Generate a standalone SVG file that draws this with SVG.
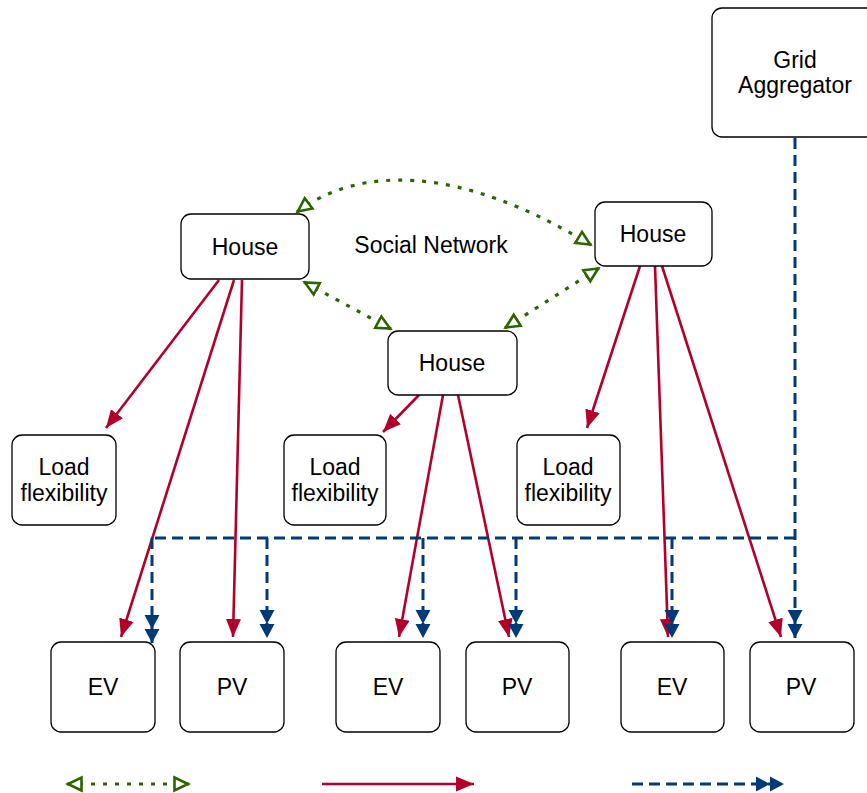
<svg xmlns="http://www.w3.org/2000/svg" width="867" height="793" viewBox="0 0 867 793">
<style>
.box{fill:#fff;stroke:#000;stroke-width:1.3}
.t{font-family:"Helvetica","Liberation Sans",Arial,sans-serif;font-size:23px;fill:#000;text-anchor:middle}
.red{fill:none;stroke:#b3002b;stroke-width:2.6}
.blue{fill:none;stroke:#003a78;stroke-width:3;stroke-dasharray:11 6}
.green{fill:none;stroke:#2a6600;stroke-width:3.2;stroke-dasharray:4 8}
</style>
<defs>
<marker id="ar" markerUnits="userSpaceOnUse" markerWidth="20" markerHeight="16" refX="18" refY="7.5" orient="auto" viewBox="0 0 20 15">
<path d="M0,0 L18,7.5 L0,15 z" fill="#b3002b"/>
</marker>
<marker id="ab" markerUnits="userSpaceOnUse" markerWidth="30" markerHeight="16" refX="28" refY="7.5" orient="auto" viewBox="0 0 30 15">
<path d="M0,0 L14,7.5 L0,15 z M14,0 L28,7.5 L14,15 z" fill="#003a78"/>
</marker>
<marker id="ag" markerUnits="userSpaceOnUse" markerWidth="20" markerHeight="18" refX="16" refY="8" orient="auto-start-reverse" viewBox="0 0 20 16">
<path d="M1.5,1.5 L15,8 L1.5,14.5 z" fill="#fff" stroke="#2a6600" stroke-width="2.6" stroke-dasharray="none"/>
</marker>
</defs>
<g id="connectors">
<path class="red" d="M219,280 L106,428" marker-end="url(#ar)"/>
<path class="red" d="M234,280 L121,637" marker-end="url(#ar)"/>
<path class="red" d="M242,280 L233,637" marker-end="url(#ar)"/>
<path class="red" d="M419,395 L383,432" marker-end="url(#ar)"/>
<path class="red" d="M443,395 L399,637" marker-end="url(#ar)"/>
<path class="red" d="M458,395 L509,637" marker-end="url(#ar)"/>
<path class="red" d="M640,266 L587,428" marker-end="url(#ar)"/>
<path class="red" d="M655,266 L668,637" marker-end="url(#ar)"/>
<path class="red" d="M662,266 L781,637" marker-end="url(#ar)"/>
<path class="blue" d="M795,138 L795,638" marker-end="url(#ab)"/>
<path class="blue" d="M795,538 L152,538"/>
<path class="blue" d="M152,538 L152,643" marker-end="url(#ab)"/>
<path class="blue" d="M267,538 L267,638" marker-end="url(#ab)"/>
<path class="blue" d="M423,538 L423,638" marker-end="url(#ab)"/>
<path class="blue" d="M516,538 L516,638" marker-end="url(#ab)"/>
<path class="blue" d="M672,538 L672,638" marker-end="url(#ab)"/>
<path class="green" d="M297,212 C360,165 460,165 591,245" marker-start="url(#ag)" marker-end="url(#ag)"/>
<path class="green" d="M304,282 L391,329" marker-start="url(#ag)" marker-end="url(#ag)"/>
<path class="green" d="M599,268 L505,328" marker-start="url(#ag)" marker-end="url(#ag)"/>
</g>
<g id="grid"><rect class="box" x="712" y="8" width="170" height="129" rx="10"/><text class="t" x="795" y="68">Grid</text><text class="t" x="795" y="93">Aggregator</text></g>
<g id="house1"><rect class="box" x="181" y="214" width="128" height="65" rx="10"/><text class="t" x="245" y="255">House</text></g>
<g id="house2"><rect class="box" x="595" y="202" width="117" height="64" rx="10"/><text class="t" x="653" y="242">House</text></g>
<g id="house3"><rect class="box" x="388" y="331" width="129" height="64" rx="10"/><text class="t" x="452" y="371">House</text></g>
<text class="t" x="431" y="253">Social Network</text>
<g id="lf1"><rect class="box" x="12" y="435" width="104" height="90" rx="10"/><text class="t" x="64" y="475">Load</text><text class="t" x="64" y="501">flexibility</text></g>
<g id="lf2"><rect class="box" x="284" y="435" width="102" height="90" rx="10"/><text class="t" x="335" y="475">Load</text><text class="t" x="335" y="501">flexibility</text></g>
<g id="lf3"><rect class="box" x="517" y="435" width="103" height="90" rx="10"/><text class="t" x="568" y="475">Load</text><text class="t" x="568" y="501">flexibility</text></g>
<g id="ev1"><rect class="box" x="51" y="642" width="104" height="90" rx="10"/><text class="t" x="103" y="695">EV</text></g>
<g id="pv1"><rect class="box" x="180" y="642" width="104" height="90" rx="10"/><text class="t" x="232" y="695">PV</text></g>
<g id="ev2"><rect class="box" x="336" y="642" width="104" height="90" rx="10"/><text class="t" x="388" y="695">EV</text></g>
<g id="pv2"><rect class="box" x="466" y="642" width="103" height="90" rx="10"/><text class="t" x="517" y="695">PV</text></g>
<g id="ev3"><rect class="box" x="621" y="642" width="103" height="90" rx="10"/><text class="t" x="672" y="695">EV</text></g>
<g id="pv3"><rect class="box" x="750" y="642" width="104" height="90" rx="10"/><text class="t" x="801" y="695">PV</text></g>
<g id="legend">
<path class="green" d="M67,784 L189,784" marker-start="url(#ag)" marker-end="url(#ag)"/>
<path class="red" d="M322,784 L474,784" marker-end="url(#ar)"/>
<path class="blue" d="M632,784 L784,784" marker-end="url(#ab)"/>
</g>
</svg>
